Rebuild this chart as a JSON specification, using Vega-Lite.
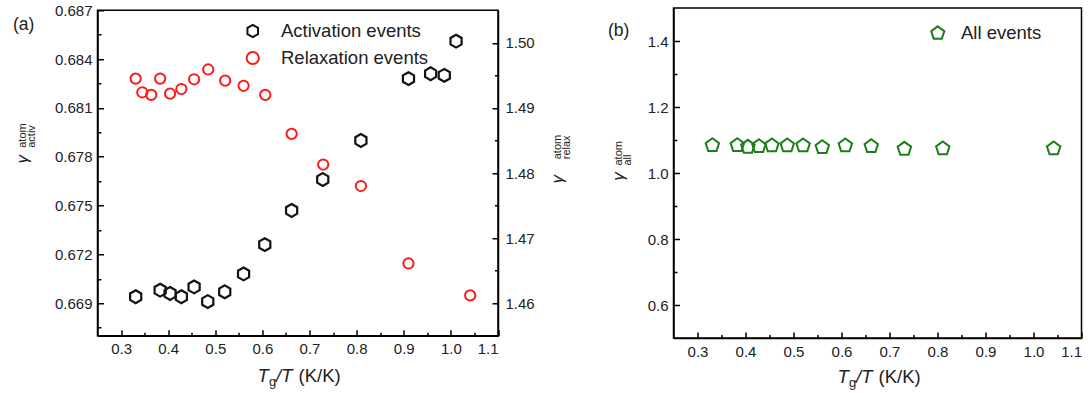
{
  "$schema": "https://vega.github.io/schema/vega-lite/v6.json",
  "background": "white",
  "padding": {"left": 11.5, "top": 2, "right": 0, "bottom": 0},
  "config": {
    "font": "Liberation Sans",
    "view": {"stroke": "black", "strokeWidth": 1.5},
    "axis": {
      "grid": false,
      "domainColor": "black",
      "domainWidth": 1.5,
      "tickColor": "black",
      "tickWidth": 1.5,
      "labelFont": "Liberation Sans",
      "labelFontSize": 15,
      "labelColor": "#222222",
      "titleFont": "Liberation Sans",
      "titleColor": "#222222",
      "titleFontWeight": "normal"
    },
    "legend": {"labelFont": "Liberation Sans", "labelFontSize": 18.5, "labelColor": "#222222"},
    "title": {"font": "Liberation Sans", "fontWeight": "normal", "fontSize": 17.5, "color": "#222222"}
  },
  "datasets": {
    "activ": [
      {"x": 0.331, "y": 0.6694}, {"x": 0.383, "y": 0.6698}, {"x": 0.404, "y": 0.6696},
      {"x": 0.428, "y": 0.6694}, {"x": 0.455, "y": 0.67}, {"x": 0.484, "y": 0.6691},
      {"x": 0.52, "y": 0.6697}, {"x": 0.56, "y": 0.6708}, {"x": 0.605, "y": 0.6726},
      {"x": 0.662, "y": 0.6747}, {"x": 0.728, "y": 0.6766}, {"x": 0.809, "y": 0.679},
      {"x": 0.91, "y": 0.6828}, {"x": 0.957, "y": 0.6831}, {"x": 0.986, "y": 0.683},
      {"x": 1.011, "y": 0.6851}
    ],
    "relax": [
      {"x": 0.331, "y": 1.4945}, {"x": 0.345, "y": 1.4924}, {"x": 0.364, "y": 1.492},
      {"x": 0.383, "y": 1.4945}, {"x": 0.404, "y": 1.4922}, {"x": 0.428, "y": 1.4929},
      {"x": 0.455, "y": 1.4944}, {"x": 0.485, "y": 1.4959}, {"x": 0.521, "y": 1.4942},
      {"x": 0.56, "y": 1.4934}, {"x": 0.606, "y": 1.492}, {"x": 0.662, "y": 1.486},
      {"x": 0.729, "y": 1.4813}, {"x": 0.809, "y": 1.478}, {"x": 0.91, "y": 1.4661},
      {"x": 1.041, "y": 1.4612}
    ],
    "all": [
      {"x": 0.331, "y": 1.084}, {"x": 0.383, "y": 1.084}, {"x": 0.405, "y": 1.079},
      {"x": 0.428, "y": 1.081}, {"x": 0.455, "y": 1.083}, {"x": 0.487, "y": 1.083},
      {"x": 0.52, "y": 1.083}, {"x": 0.56, "y": 1.078}, {"x": 0.608, "y": 1.083},
      {"x": 0.662, "y": 1.081}, {"x": 0.731, "y": 1.073}, {"x": 0.811, "y": 1.074},
      {"x": 1.042, "y": 1.074}
    ]
  },
  "bounds": "flush",
  "center": true,
  "spacing": 175,
  "resolve": {"scale": {"color": "independent", "shape": "independent"}, "legend": {"color": "independent", "shape": "independent"}},
  "hconcat": [
    {
      "width": 400.5,
      "height": 325.5,
      "title": {"text": "(a)", "anchor": "start", "frame": "group", "offset": 0, "dx": -84.5, "dy": 30},
      "resolve": {"scale": {"y": "independent"}, "axis": {"x": "independent", "y": "independent"}},
      "layer": [
        {
          "data": {"name": "activ"},
          "mark": {"type": "point", "filled": false, "strokeWidth": 2.2, "size": 165, "opacity": 1},
          "encoding": {
            "x": {"field": "x", "type": "quantitative",
              "scale": {"domain": [0.25, 1.1], "nice": false, "zero": false},
              "axis": {"orient": "bottom", "values": [0.3, 0.4, 0.5, 0.6, 0.7, 0.8, 0.9, 1.0, 1.1], "format": ".1f", "tickSize": -6, "labelPadding": 12,
                "title": "T", "titleFontStyle": "italic", "titleFontSize": 18.5, "titleAlign": "left", "titleBaseline": "alphabetic", "titleX": 159.5, "titleY": 46}},
            "y": {"field": "y", "type": "quantitative",
              "scale": {"domain": [0.667, 0.687], "nice": false, "zero": false},
              "axis": {"orient": "left", "values": [0.669, 0.672, 0.675, 0.678, 0.681, 0.684, 0.687], "format": ".3f", "tickSize": -6, "labelPadding": 11.5,
                "title": "γ", "titleFontStyle": "italic", "titleFontSize": 17, "titleAngle": 270, "titleAlign": "center", "titleBaseline": "middle", "titleX": -75.5, "titleY": 148.5}},
            "color": {"datum": "Activation events", "type": "nominal",
              "scale": {"domain": ["Activation events", "Relaxation events"], "range": ["#111111", "#ff1a1a"]},
              "legend": {"orient": "none", "legendX": 146, "legendY": 11.5, "title": null, "padding": 0, "rowPadding": 6, "labelOffset": 19, "symbolSize": 150, "symbolStrokeWidth": 2}},
            "shape": {"datum": "Activation events", "type": "nominal",
              "scale": {"domain": ["Activation events", "Relaxation events"], "range": ["M0,-1L0.866,-0.5L0.866,0.5L0,1L-0.866,0.5L-0.866,-0.5Z", "circle"]},
              "legend": {"orient": "none", "legendX": 146, "legendY": 11.5, "title": null, "padding": 0, "rowPadding": 6, "labelOffset": 19, "symbolSize": 150, "symbolStrokeWidth": 2}}
          }
        },
        {
          "data": {"name": "relax"},
          "mark": {"type": "point", "filled": false, "strokeWidth": 2, "size": 105, "opacity": 1},
          "encoding": {
            "x": {"field": "x", "type": "quantitative",
              "axis": {"orient": "bottom", "labels": false, "ticks": false, "domain": false,
                "title": "/T", "titleFontStyle": "italic", "titleFontSize": 18.5, "titleAlign": "left", "titleBaseline": "alphabetic", "titleX": 178, "titleY": 46}},
            "y": {"field": "y", "type": "quantitative",
              "scale": {"domain": [1.455, 1.505], "nice": false, "zero": false},
              "axis": {"orient": "right", "values": [1.46, 1.47, 1.48, 1.49, 1.5], "format": ".2f", "tickSize": -6, "labelPadding": 13,
                "title": "γ", "titleFontStyle": "italic", "titleFontSize": 17, "titleAngle": 270, "titleAlign": "center", "titleBaseline": "middle", "titleX": 59, "titleY": 168.5}},
            "color": {"datum": "Relaxation events", "type": "nominal"},
            "shape": {"datum": "Relaxation events", "type": "nominal"}
          }
        },
        {
          "data": {"name": "activ"},
          "mark": {"type": "point", "opacity": 0},
          "encoding": {
            "x": {"field": "x", "type": "quantitative",
              "axis": {"orient": "bottom", "values": [0.35, 0.45, 0.55, 0.65, 0.75, 0.85, 0.95, 1.05], "labels": false, "domain": false, "tickSize": -3.5,
                "title": "g", "titleFontSize": 13, "titleAlign": "left", "titleBaseline": "alphabetic", "titleX": 171, "titleY": 50}},
            "y": {"field": "y", "type": "quantitative",
              "scale": {"domain": [0.667, 0.687], "nice": false, "zero": false},
              "axis": {"orient": "left", "values": [0.6675, 0.6705, 0.6735, 0.6765, 0.6795, 0.6825, 0.6855], "labels": false, "domain": false, "tickSize": -3.5,
                "title": ["atom", "activ"], "titleFontSize": 11, "titleLineHeight": 9, "titleAngle": 270, "titleAlign": "left", "titleBaseline": "middle", "titleX": -75.5, "titleY": 137}}
          }
        },
        {
          "data": {"name": "relax"},
          "mark": {"type": "point", "opacity": 0},
          "encoding": {
            "x": {"field": "x", "type": "quantitative",
              "axis": {"orient": "bottom", "labels": false, "ticks": false, "domain": false,
                "title": "(K/K)", "titleFontSize": 18.5, "titleAlign": "left", "titleBaseline": "alphabetic", "titleX": 200.5, "titleY": 46}},
            "y": {"field": "y", "type": "quantitative",
              "scale": {"domain": [1.455, 1.505], "nice": false, "zero": false},
              "axis": {"orient": "right", "values": [1.465, 1.475, 1.485, 1.495], "labels": false, "domain": false, "tickSize": -3.5,
                "title": ["atom", "relax"], "titleFontSize": 11, "titleLineHeight": 9, "titleAngle": 270, "titleAlign": "left", "titleBaseline": "middle", "titleX": 59, "titleY": 148.5}}
          }
        }
      ]
    },
    {
      "width": 408,
      "height": 330,
      "title": {"text": "(b)", "anchor": "start", "frame": "group", "offset": 0, "dx": -65.5, "dy": 31},
      "resolve": {"axis": {"x": "independent", "y": "independent"}},
      "layer": [
        {
          "data": {"name": "all"},
          "mark": {"type": "point", "filled": false, "strokeWidth": 2, "size": 200, "opacity": 1},
          "encoding": {
            "x": {"field": "x", "type": "quantitative",
              "scale": {"domain": [0.25, 1.1], "nice": false, "zero": false},
              "axis": {"orient": "bottom", "values": [0.3, 0.4, 0.5, 0.6, 0.7, 0.8, 0.9, 1.0, 1.1], "format": ".1f", "tickSize": -6, "labelPadding": 12,
                "title": "T", "titleFontStyle": "italic", "titleFontSize": 18.5, "titleAlign": "left", "titleBaseline": "alphabetic", "titleX": 163.5, "titleY": 44}},
            "y": {"field": "y", "type": "quantitative",
              "scale": {"domain": [0.5, 1.5], "nice": false, "zero": false},
              "axis": {"orient": "left", "values": [0.6, 0.8, 1.0, 1.2, 1.4], "format": ".1f", "tickSize": -6, "labelPadding": 11.5,
                "title": "γ", "titleFontStyle": "italic", "titleFontSize": 17, "titleAngle": 270, "titleAlign": "center", "titleBaseline": "middle", "titleX": -55.5, "titleY": 168}},
            "color": {"datum": "All events", "type": "nominal",
              "scale": {"domain": ["All events"], "range": ["#1a7f1a"]},
              "legend": {"orient": "none", "legendX": 255, "legendY": 16, "title": null, "padding": 0, "labelOffset": 14, "symbolSize": 190, "symbolStrokeWidth": 2}},
            "shape": {"datum": "All events", "type": "nominal",
              "scale": {"domain": ["All events"], "range": ["M0,-1L0.951,-0.309L0.588,0.809L-0.588,0.809L-0.951,-0.309Z"]},
              "legend": {"orient": "none", "legendX": 255, "legendY": 16, "title": null, "padding": 0, "labelOffset": 14, "symbolSize": 190, "symbolStrokeWidth": 2}}
          }
        },
        {
          "data": {"name": "all"},
          "mark": {"type": "point", "opacity": 0},
          "encoding": {
            "x": {"field": "x", "type": "quantitative",
              "axis": {"orient": "bottom", "labels": false, "ticks": false, "domain": false,
                "title": "/T", "titleFontStyle": "italic", "titleFontSize": 18.5, "titleAlign": "left", "titleBaseline": "alphabetic", "titleX": 182, "titleY": 44}},
            "y": {"field": "y", "type": "quantitative",
              "axis": {"orient": "left", "values": [0.7, 0.9, 1.1, 1.3], "labels": false, "domain": false, "tickSize": -3.5,
                "title": ["atom", "all"], "titleFontSize": 11, "titleLineHeight": 9, "titleAngle": 270, "titleAlign": "left", "titleBaseline": "middle", "titleX": -55.5, "titleY": 157}}
          }
        },
        {
          "data": {"name": "all"},
          "mark": {"type": "point", "opacity": 0},
          "encoding": {
            "x": {"field": "x", "type": "quantitative",
              "axis": {"orient": "bottom", "values": [0.35, 0.45, 0.55, 0.65, 0.75, 0.85, 0.95, 1.05], "labels": false, "domain": false, "tickSize": -3.5,
                "title": "g", "titleFontSize": 13, "titleAlign": "left", "titleBaseline": "alphabetic", "titleX": 175, "titleY": 48}},
            "y": {"field": "y", "type": "quantitative", "axis": null}
          }
        },
        {
          "data": {"name": "all"},
          "mark": {"type": "point", "opacity": 0},
          "encoding": {
            "x": {"field": "x", "type": "quantitative",
              "axis": {"orient": "bottom", "labels": false, "ticks": false, "domain": false,
                "title": "(K/K)", "titleFontSize": 18.5, "titleAlign": "left", "titleBaseline": "alphabetic", "titleX": 204.5, "titleY": 44}},
            "y": {"field": "y", "type": "quantitative", "axis": null}
          }
        }
      ]
    }
  ]
}
